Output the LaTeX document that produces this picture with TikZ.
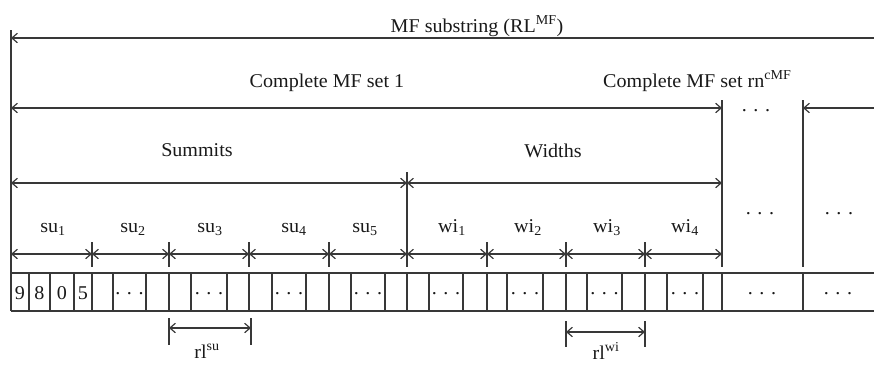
\documentclass[tikz,border=0pt]{standalone}
\usepackage{fontspec}
\setmainfont{Liberation Serif}[FakeStretch=1.03]
\usetikzlibrary{arrows.meta}
\begin{document}
\begin{tikzpicture}[x=1pt,y=-1pt,
  ln/.style={line width=1.2pt,draw=black!78},
  tip/.tip={Straight Barb[length=5.5pt,width=9.5pt]},
  dim/.style={ln,tip-tip},
  ldim/.style={ln,tip-},
  lbl/.style={anchor=base,inner sep=0pt,font=\fontsize{19.5}{22}\selectfont,text=black!90},
  dotsn/.style={anchor=base,inner sep=0pt,font=\fontsize{19.5}{22}\selectfont,text=black!90},
  cell/.style={anchor=base,inner sep=0pt,font=\fontsize{19.5}{22}\selectfont,text=black!90}
  ]
\useasboundingbox (0,0) rectangle (874,364);

% main left border
\coordinate (L0) at (11,30);
\coordinate (L1) at (11,311);
\draw[ln] (L0) -- (L1);

% MF substring
\coordinate (ta) at (11,38);
\coordinate (tb) at (874,38);
\draw[ldim] (ta) -- (tb);
\node[lbl] (tMF) at (477,32) {MF substring (RL\textsuperscript{MF})};

% complete sets
\coordinate (ca) at (11,108);
\coordinate (cb) at (722,108);
\coordinate (cc) at (803,108);
\coordinate (cd) at (874,108);
\coordinate (v1t) at (722,100);
\coordinate (v1b) at (722,267);
\coordinate (v2t) at (803,100);
\coordinate (v2b) at (803,267);
\draw[dim] (ca) -- (cb);
\draw[ldim] (cc) -- (cd);
\draw[ln] (v1t) -- (v1b);
\draw[ln] (v2t) -- (v2b);
\node[lbl] (tC1) at (327,87) {Complete MF set 1};
\node[lbl,anchor=base west] (tCn) at (603,87) {Complete MF set rn\textsuperscript{cMF}};
\node[dotsn] (d1) at (756,111) {. . .};

% summits / widths
\coordinate (sa) at (11,183);
\coordinate (sb) at (407,183);
\coordinate (sc) at (722,183);
\coordinate (v3t) at (407,172);
\coordinate (v3b) at (407,267);
\draw[dim] (sa) -- (sb);
\draw[dim] (sb) -- (sc);
\draw[ln] (v3t) -- (v3b);
\node[lbl] (tS) at (197,156) {Summits};
\node[lbl] (tW) at (553,157) {Widths};
\node[dotsn] (d2) at (760,214) {. . .};
\node[dotsn] (d3) at (839,214) {. . .};

% small dimension arrows
\foreach \x/\n in {92/a,169/b,249/c,329/d,487/e,566/f,645/g}{
  \coordinate (k\n t) at (\x,242);
  \coordinate (k\n b) at (\x,267);
  \draw[ln] (k\n t) -- (k\n b);
}
\foreach \a/\b [count=\i] in {11/92,92/169,169/249,249/329,329/407,407/487,487/566,566/645,645/722}{
  \coordinate (p\i a) at (\a,254);
  \coordinate (p\i b) at (\b,254);
  \draw[dim] (p\i a) -- (p\i b);
}
\node[lbl] (su1) at (53,232) {su\textsubscript{1}};
\node[lbl] (su2) at (133,232) {su\textsubscript{2}};
\node[lbl] (su3) at (210,232) {su\textsubscript{3}};
\node[lbl] (su4) at (294,232) {su\textsubscript{4}};
\node[lbl] (su5) at (365,232) {su\textsubscript{5}};
\node[lbl] (wi1) at (452,232) {wi\textsubscript{1}};
\node[lbl] (wi2) at (528,232) {wi\textsubscript{2}};
\node[lbl] (wi3) at (607,232) {wi\textsubscript{3}};
\node[lbl] (wi4) at (685,232) {wi\textsubscript{4}};

% strip
\coordinate (st0) at (11,273);
\coordinate (st1) at (874,273);
\coordinate (sb0) at (11,311);
\coordinate (sb1) at (874,311);
\draw[ln] (st0) -- (st1);
\draw[ln] (sb0) -- (sb1);
\foreach \x [count=\i] in {29,50,74,92,113,146,169,191,227,249,272,306,329,351,385,407,429,463,487,507,543,566,587,622,645,667,703,722,803}{
  \coordinate (ct\i) at (\x,273);
  \coordinate (cb\i) at (\x,311);
  \draw[ln] (ct\i) -- (cb\i);
}
\node[cell] (n9) at (20,299) {9};
\node[cell] (n8) at (39.5,299) {8};
\node[cell] (n0) at (62,299) {0};
\node[cell] (n5) at (83,299) {5};
\foreach \x [count=\i] in {129.5,209,289,368,446,525,604.5,685,762,838}{
  \node[dotsn] (sd\i) at (\x,294) {. . .};
}

% rl arrows
\coordinate (ra1) at (169,328);
\coordinate (ra2) at (251,328);
\coordinate (ra1t) at (169,318);
\coordinate (ra1b) at (169,345);
\coordinate (ra2t) at (251,318);
\coordinate (ra2b) at (251,345);
\draw[ln] (ra1t) -- (ra1b);
\draw[ln] (ra2t) -- (ra2b);
\draw[dim] (ra1) -- (ra2);
\node[lbl] (rlsu) at (207,358) {rl\textsuperscript{su}};

\coordinate (rb1) at (566,332);
\coordinate (rb2) at (645,332);
\coordinate (rb1t) at (566,321);
\coordinate (rb1b) at (566,347);
\coordinate (rb2t) at (645,321);
\coordinate (rb2b) at (645,347);
\draw[ln] (rb1t) -- (rb1b);
\draw[ln] (rb2t) -- (rb2b);
\draw[dim] (rb1) -- (rb2);
\node[lbl] (rlwi) at (606,359) {rl\textsuperscript{wi}};
\end{tikzpicture}
\end{document}
